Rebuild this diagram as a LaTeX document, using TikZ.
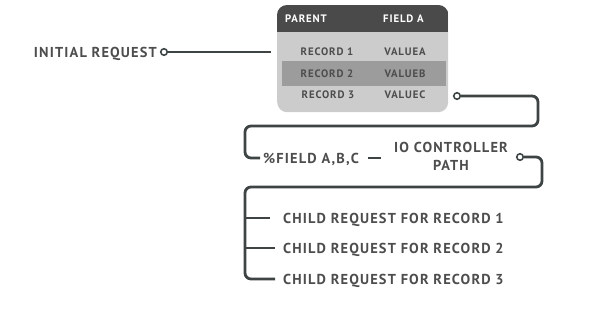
\documentclass[tikz,border=0pt]{standalone}
\usepackage{fontspec}
\setmainfont{PT Sans}[LetterSpace=8]
\usetikzlibrary{positioning,calc}

\definecolor{linegray}{HTML}{3E4444}
\definecolor{txtgray}{HTML}{4D4D4D}
\definecolor{headgray}{HTML}{4A4A4A}
\definecolor{bodygray}{HTML}{CCCCCC}
\definecolor{rowgray}{HTML}{9C9C9C}

\tikzset{
  lbl/.style={font=\bfseries\fontsize{14.4}{18}\selectfont, text=txtgray,
    inner sep=0pt, text depth=0pt},
  cell/.style={font=\bfseries\fontsize{10.8}{12}\selectfont, text=txtgray,
    inner sep=0pt, text depth=0pt},
  hcell/.style={cell, text=white},
  wire/.style={draw=linegray, line width=2.8pt, rounded corners=6pt},
  port/.style={circle, draw=linegray, line width=1.6pt, fill=white,
    minimum size=6.5pt, inner sep=0pt}
}

\begin{document}
\begin{tikzpicture}[x=1pt,y=-1pt]
\useasboundingbox (0,0) rectangle (601,326);

% parent table
\node[fill=bodygray, rounded corners=10pt, minimum width=171pt,
  minimum height=107pt, anchor=north west, inner sep=0pt] (tbl) at (277,5) {};
\begin{scope}
  \clip[rounded corners=10pt] (tbl.north west) rectangle (tbl.south east);
  \fill[headgray] (tbl.north west) rectangle ($(tbl.north east)+(0,27)$);
\end{scope}
\fill[rowgray] (282,61) rectangle (446,86);

\node[hcell, anchor=west] (hp) at (285,19) {PARENT};
\node[hcell, anchor=west] (hf) at (383,19) {FIELD A};
\node[cell] (r1) at (327,52) {RECORD 1};
\node[cell] (r2) at (327,74) {RECORD 2};
\node[cell] (r3) at (328,95) {RECORD 3};
\node[cell] (v1) at (405,52) {VALUEA};
\node[cell] (v2) at (405,74) {VALUEB};
\node[cell] (v3) at (405,95) {VALUEC};

% request
\node[lbl, anchor=east] (init) at (157,52) {INITIAL REQUEST};
\node[port] (p0) at (164,52) {};
\draw[wire, shorten >=6pt] (p0.east) -- (p0.east -| tbl.west);

% io path
\node[port] (p1) at (457,96) {};
\node[lbl, anchor=west] (fld) at (263,158) {\%FIELD A,B,C};
\node[lbl, align=center] (io) at (451,156) {IO CONTROLLER\\PATH};
\node[port] (p2) at (520,157) {};
\draw[wire] (p1.east) -- (538,96) -- (538,126) -- (245,126) -- (245,158)
  -- ([xshift=-3pt]fld.west);
\draw[wire, shorten <=9pt, shorten >=13pt] (fld.east) -- (fld.east -| io.west);

% child requests
\node[lbl, anchor=west] (c1) at (283,218) {CHILD REQUEST FOR RECORD 1};
\node[lbl, anchor=west] (c2) at (283,248) {CHILD REQUEST FOR RECORD 2};
\node[lbl, anchor=west] (c3) at (283,279) {CHILD REQUEST FOR RECORD 3};
\draw[wire] (p2.east) -- (542,157) -- (542,187) -- (245,187) -- (245,279)
  -- ([xshift=-8pt]c3.west);
\draw[wire] (245,218) -- ([xshift=-13pt]c1.west);
\draw[wire] (245,248) -- ([xshift=-8pt]c2.west);
\end{tikzpicture}
\end{document}
